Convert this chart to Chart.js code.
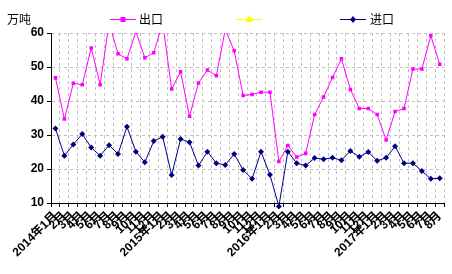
<!DOCTYPE html>
<html>
<head>
<meta charset="utf-8">
<script src="https://cdn.jsdelivr.net/npm/chart.js@4/dist/chart.umd.min.js"></script>
<style>html,body{margin:0;padding:0;background:#fff;}canvas{display:block;}</style>
</head>
<body>
<canvas id="c" width="452" height="274"></canvas>
<script>
const categories = [
  '2014年1月','2月','3月','4月','5月','6月','7月','8月','9月','10月','11月','12月',
  '2015年1月','2月','3月','4月','5月','6月','7月','8月','9月','10月','11月','12月',
  '2016年1月','2月','3月','4月','5月','6月','7月','8月','9月','10月','11月','12月',
  '2017年1月','2月','3月','4月','5月','6月','7月','8月'
];
const exportSeries = [
  46.8, 34.7, 45.2, 44.8, 55.6, 44.8, 63.0, 53.9, 52.4, 60.4, 52.7, 54.2,
  63.0, 43.5, 48.6, 35.5, 45.3, 49.1, 47.4, 61.0, 54.8, 41.6, 41.9, 42.6,
  42.6, 22.2, 26.9, 23.5, 24.6, 36.0, 41.2, 46.9, 52.4, 43.4, 37.8, 37.8,
  36.0, 28.5, 36.9, 37.8, 49.4, 49.4, 59.2, 50.8
];
const importSeries = [
  31.9, 23.9, 27.2, 30.3, 26.3, 23.9, 27.0, 24.4, 32.4, 25.1, 22.0, 28.2,
  29.5, 18.2, 28.8, 27.9, 21.0, 25.1, 21.7, 21.2, 24.4, 19.7, 17.1, 25.1,
  18.3, 9.0, 25.1, 21.7, 21.0, 23.2, 22.9, 23.3, 22.6, 25.3, 23.6, 25.0,
  22.4, 23.3, 26.7, 21.7, 21.7, 19.4, 17.1, 17.3
];
const seriesNames = ['出口', '', '进口'];
const unitLabel = '万吨';
const yTicks = { min: 10, max: 60, step: 5 };

const legendPos = [
  { x0: 110, x1: 136, tx: 139 },
  { x0: 236, x1: 262, tx: 265 },
  { x0: 340, x1: 366, tx: 370 }
];
const topLegend = {
  id: 'topLegend',
  afterDraw(chart) {
    const ctx = chart.ctx;
    ctx.save();
    const ly = 19;
    ctx.font = '12px "Noto Sans CJK SC", sans-serif';
    ctx.fillStyle = '#000';
    ctx.textBaseline = 'middle';
    ctx.textAlign = 'left';
    ctx.fillText(unitLabel, 7, ly);
    chart.data.datasets.forEach((ds, i) => {
      const p = legendPos[i];
      ctx.strokeStyle = ds.borderColor;
      ctx.lineWidth = 1;
      ctx.beginPath();
      ctx.moveTo(p.x0, ly + 0.5);
      ctx.lineTo(p.x1, ly + 0.5);
      ctx.stroke();
      const cx = (p.x0 + p.x1) / 2, r = ds.pointRadius;
      ctx.fillStyle = ds.pointBackgroundColor;
      ctx.beginPath();
      if (ds.pointStyle === 'rect') {
        ctx.rect(cx - r, ly - r + 0.5, 2 * r, 2 * r);
      } else if (ds.pointStyle === 'triangle') {
        ctx.moveTo(cx, ly - r - 1);
        ctx.lineTo(cx + r + 1, ly + r);
        ctx.lineTo(cx - r - 1, ly + r);
        ctx.closePath();
      } else {
        ctx.moveTo(cx, ly - r); ctx.lineTo(cx + r, ly + 0.5);
        ctx.lineTo(cx, ly + r + 1); ctx.lineTo(cx - r, ly + 0.5);
        ctx.closePath();
      }
      ctx.fill();
      if (ds.label) {
        ctx.fillStyle = '#000';
        ctx.fillText(ds.label, p.tx, ly);
      }
    });
    ctx.restore();
  }
};

new Chart(document.getElementById('c'), {
  type: 'line',
  data: {
    labels: categories,
    datasets: [
      {
        label: seriesNames[0], data: exportSeries,
        borderColor: '#FF00FF', backgroundColor: '#FF00FF',
        pointBackgroundColor: '#FF00FF', pointBorderColor: '#FF00FF',
        pointStyle: 'rect', pointRadius: 2.5, borderWidth: 1, pointBorderWidth: 0,
        tension: 0, clip: 0
      },
      {
        label: seriesNames[1], data: [],
        borderColor: '#FFFF00', backgroundColor: '#FFFF00',
        pointBackgroundColor: '#FFFF00', pointBorderColor: '#FFFF00',
        pointStyle: 'triangle', pointRadius: 3, borderWidth: 1
      },
      {
        label: seriesNames[2], data: importSeries,
        borderColor: '#000080', backgroundColor: '#000080',
        pointBackgroundColor: '#000080', pointBorderColor: '#000080',
        pointStyle: 'rectRot', pointRadius: 3, borderWidth: 1, pointBorderWidth: 0,
        tension: 0, clip: { left: 0, right: 0, top: 0, bottom: 6 }
      }
    ]
  },
  options: {
    responsive: false,
    animation: false,
    events: [],
    layout: { autoPadding: false, padding: { top: 33, right: 6, left: 0, bottom: 0 } },
    plugins: { legend: { display: false }, tooltip: { enabled: false } },
    scales: {
      x: {
        offset: true,
        grid: {
          offset: true, color: '#c0c0c0', lineWidth: 1,
          tickColor: '#000', tickLength: 4, tickBorderDash: [], tickWidth: 1
        },
        border: { display: true, color: '#000', width: 1, dash: [3, 3] },
        ticks: {
          autoSkip: false, minRotation: 45, maxRotation: 45, padding: 2,
          color: '#000', font: { family: '"Liberation Sans", "Noto Sans CJK SC"', size: 12, weight: 'bold' }
        },
        afterFit(scale) { scale.height = 71; }
      },
      y: {
        min: yTicks.min, max: yTicks.max,
        grid: {
          color: '#c0c0c0', lineWidth: 1,
          tickColor: '#000', tickLength: 4, tickBorderDash: [], tickWidth: 1
        },
        border: { display: true, color: '#000', width: 1, dash: [3, 3] },
        ticks: {
          stepSize: yTicks.step, padding: 3, color: '#000',
          font: { family: '"Liberation Sans"', size: 12, weight: 'bold' }
        },
        afterFit(scale) { scale.width = 51; }
      }
    }
  },
  plugins: [topLegend]
});
</script>
</body>
</html>
